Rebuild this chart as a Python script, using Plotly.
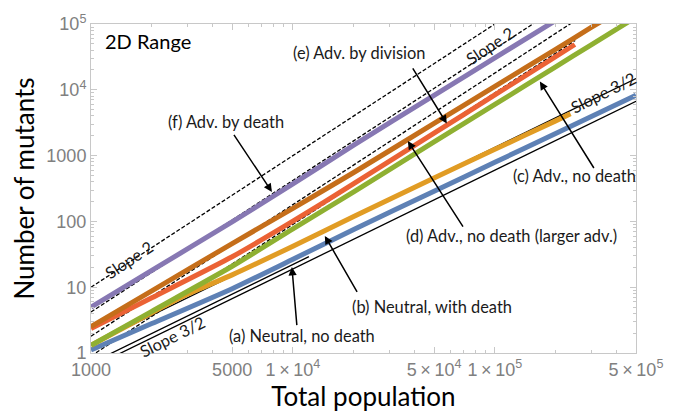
import math
import plotly.graph_objects as go

# ---- data: total population vs. number of mutants (2D range expansion) ----
a_pop = [1000, 2000, 5000, 1e4, 2e4, 5e4, 1e5, 2e5, 5e5]
a_mut = [1.11, 2.8, 9.5, 26.6, 75.5, 287, 790, 2170, 8260]

b_pop = [1000, 2000, 3000, 5000, 1e4, 2e4, 5e4, 1e5, 2e5, 2.37e5]
b_mut = [1.31, 4.1, 7.8, 15.4, 42, 119, 458, 1245, 3370, 4310]

c_pop = [1000, 2000, 5000, 1e4, 2e4, 5e4, 1e5, 2e5, 3e5, 5e5]
c_mut = [1.31, 4.3, 20.8, 77, 282, 1610, 5990, 22300, 48300, 127000]

d_pop = [1000, 2000, 5000, 1e4, 2e4, 5e4, 1e5, 2e5, 3e5, 5e5]
d_mut = [2.52, 8.8, 46, 158, 554, 3080, 11270, 41300, 88500, 227000]

e_pop = [1000, 2000, 5000, 1e4, 2e4, 5e4, 1e5, 2e5, 2.49e5]
e_mut = [2.35, 6.9, 29, 101, 374, 2190, 8370, 31900, 48800]

f_pop = [1000, 2000, 5000, 1e4, 2e4, 5e4, 1e5, 2e5]
f_mut = [4.98, 18, 98, 372, 1440, 8230, 30600, 113000]

# power-law guide lines: (prefactor at N=1000, exponent, N start, N end)
slope2_guides = [(10.0, 2, 1000, 1e5), (4.2, 2, 1000, 2e5), (1.8, 2, 1000, 3e5), (0.9, 2, 1000, 2.5e5)]
slope32_guides = [(0.60, 1.5, 1000, 5e5), (0.70, 1.5, 1000, 1.2e4), (1.33, 1.5, 1000, 5e5)]

x_ticks = [1000, 5000, 1e4, 5e4, 1e5, 5e5]
x_ticktext = ["1000", "5000", "1\u2009\u00d7\u200910<sup>4</sup>", "5\u2009\u00d7\u200910<sup>4</sup>",
              "1\u2009\u00d7\u200910<sup>5</sup>", "5\u2009\u00d7\u200910<sup>5</sup>"]
y_ticks = [1, 10, 100, 1000, 1e4, 1e5]
y_ticktext = ["1", "10", "100", "1000", "10<sup>4</sup>", "10<sup>5</sup>"]

BLUE, ORANGE, GREEN = "#5E81B5", "#E19C24", "#8FB032"
RED, PURPLE, BROWN = "#EB6235", "#8778B3", "#C56E1A"

fig = go.Figure()


def guide(c, k, n0, n1, dash):
    xs = [n0 * (n1 / n0) ** (i / 40) for i in range(41)]
    ys = [c * (x / 1000) ** k for x in xs]
    fig.add_trace(go.Scatter(x=xs, y=ys, mode="lines", hoverinfo="skip",
                             line=dict(color="black", width=1.3, dash=dash)))


for c, k, n0, n1 in slope32_guides:
    guide(c, k, n0, n1, "solid")
for c, k, n0, n1 in slope2_guides:
    guide(c, k, n0, n1, "4px,2px")

for xs, ys, col in [(a_pop, a_mut, BLUE), (b_pop, b_mut, ORANGE), (c_pop, c_mut, GREEN),
                    (e_pop, e_mut, RED), (d_pop, d_mut, BROWN), (f_pop, f_mut, PURPLE)]:
    fig.add_trace(go.Scatter(x=xs, y=ys, mode="lines",
                             line=dict(color=col, width=5, shape="spline", smoothing=0.6)))

FAM = "Lato, Liberation Sans, sans-serif"
LBL = dict(family=FAM, size=16.4, color="#1a1a1a")
L = math.log10

labels = [
    ("(e) Adv. by division", 4.327, 4.570, 0),
    ("(f) Adv. by death", 3.668, 3.516, 0),
    ("(c) Adv., no death", 5.396, 2.700, 0),
    ("(d) Adv., no death (larger adv.)", 5.084, 1.780, 0),
    ("(b) Neutral, with death", 4.688, 0.712, 0),
    ("(a) Neutral, no death", 4.045, 0.267, 0),
    ("Slope 2", 3.188, 1.424, -33.7),
    ("Slope 2", 4.975, 4.674, -33.7),
    ("Slope 3/2", 5.535, 3.961, -26.6),
    ("Slope 3/2", 3.401, 0.252, -26.6),
]
anns = []
for t, x, y, ang in labels:
    anns.append(dict(text=t, x=x, y=y, xref="x", yref="y", showarrow=False,
                     textangle=ang, font=LBL))

# arrows: (tail x, tail y, head x, head y) in log10 units
arrows = [
    (3.703, 3.338, 3.896, 2.448),
    (4.589, 4.347, 4.762, 3.487),
    (4.847, 1.899, 4.569, 3.220),
    (5.495, 2.789, 5.223, 4.125),
    (4.322, 0.905, 4.158, 1.780),
    (4.020, 0.401, 3.995, 1.306),
]
for tx, ty, hx, hy in arrows:
    anns.append(dict(text="", x=hx, y=hy, ax=tx, ay=ty, xref="x", yref="y",
                     axref="x", ayref="y", showarrow=True, arrowhead=2,
                     arrowsize=1.1, arrowwidth=1.5, arrowcolor="black"))

anns.append(dict(text="2D Range", x=0.022, y=0.947, xref="paper", yref="paper",
                 xanchor="left", yanchor="middle", showarrow=False,
                 font=dict(family=FAM, size=20, color="black")))

AXC = "#c8c8c8"
TICKF = dict(family="Liberation Sans, Arial, sans-serif", size=18, color="#808080")
x_minor = [m * 10 ** d for d in (3, 4, 5) for m in range(2, 10) if m * 10 ** d <= 5e5]
y_minor = [m * 10 ** d for d in (0, 1, 2, 3, 4) for m in range(2, 10)]

fig.update_xaxes(type="log", range=[3, L(5e5)], showline=True, linecolor=AXC, linewidth=1,
                 mirror="ticks", ticks="inside", ticklen=6, tickcolor=AXC,
                 tickvals=x_ticks, ticktext=x_ticktext, tickfont=TICKF,
                 minor=dict(ticks="inside", ticklen=3, tickcolor=AXC, tickvals=x_minor),
                 showgrid=False, zeroline=False,
                 title=dict(text="Total population", standoff=2,
                            font=dict(family=FAM, size=26, color="black")))
fig.update_yaxes(type="log", range=[0, 5], showline=True, linecolor=AXC, linewidth=1,
                 mirror="ticks", ticks="inside", ticklen=6, tickcolor=AXC,
                 tickvals=y_ticks, ticktext=y_ticktext, tickfont=TICKF,
                 minor=dict(ticks="inside", ticklen=3, tickcolor=AXC, tickvals=y_minor),
                 showgrid=False, zeroline=False,
                 title=dict(text="Number of mutants", standoff=4,
                            font=dict(family=FAM, size=26, color="black")))

fig.update_layout(width=678, height=412, margin=dict(l=91, r=42, t=18, b=57),
                  paper_bgcolor="white", plot_bgcolor="white", showlegend=False,
                  annotations=anns)

fig.write_html("out.html")
